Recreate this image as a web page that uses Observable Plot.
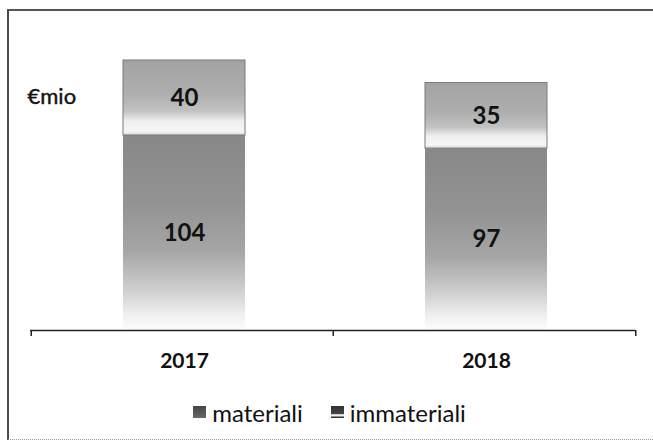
<!DOCTYPE html>
<html>
<head>
<meta charset="utf-8">
<script src="https://cdn.jsdelivr.net/npm/d3@7"></script>
<script src="https://cdn.jsdelivr.net/npm/@observablehq/plot@0.6"></script>
<style>
  html, body { margin: 0; padding: 0; background: #fff; }
  #wrap { position: relative; width: 653px; height: 441px; overflow: hidden; font-family: Lato, "DejaVu Sans", sans-serif; }
  #frame { position: absolute; left: 7px; top: 9px; width: 700px; height: 428px;
           border-left: 2px solid #4a4a4a; border-top: 2px solid #555; border-bottom: 1px dotted #999; pointer-events: none; }
  #legend { position: relative; height: 44px; display: flex; justify-content: center; align-items: center;
            font-size: 24px; color: #111; padding-left: 6px; }
  .item { display: flex; align-items: center; }
  .sw { width: 13px; height: 12px; margin-right: 6px; }
  .gap { width: 28px; }
</style>
</head>
<body>
<div id="wrap">
  <div id="chart"></div>
  <div id="legend"></div>
  <div id="frame"></div>
</div>
<script>
const years = ["2017", "2018"];
const materiali = [104, 97];
const immateriali = [40, 35];
const seriesNames = ["materiali", "immateriali"];
const yLabel = "€mio";

const fills = {materiali: "url(#gMat)", immateriali: "url(#gImm)"};
const rows = [];
years.forEach((yr, i) => {
  rows.push({year: yr, type: seriesNames[0], value: materiali[i]});
  rows.push({year: yr, type: seriesNames[1], value: immateriali[i]});
});

const W = 653, H = 390, mL = 30, mR = 18, mT = 30, mB = 60;
const bw = (W - mL - mR) / years.length;

const chart = Plot.plot({
  width: W, height: H,
  marginTop: mT, marginBottom: mB, marginLeft: mL, marginRight: mR,
  x: {type: "band", domain: years, padding: 0, axis: null},
  y: {domain: [0, 160], axis: null},
  color: {type: "identity"},
  style: {fontFamily: "Lato, 'DejaVu Sans', sans-serif", background: "transparent"},
  marks: [
    Plot.barY(rows, {
      x: "year", y: "value",
      fill: d => fills[d.type],
      stroke: d => d.type === "immateriali" ? "#7a7a7a" : "none",
      strokeWidth: 1,
      insetLeft: 90, insetRight: 90, dx: 2
    }),
    Plot.text(rows, Plot.stackY({
      x: "year", y: "value", text: d => String(d.value),
      fontSize: 24, fontWeight: "bold", fill: "#111", dx: 2
    })),
    Plot.ruleY([0], {stroke: "#222", strokeWidth: 1.5}),
    Plot.ruleX(years, {x: d => d, y1: 0, y2: -3.2, dx: -bw / 2, stroke: "#222", strokeWidth: 1.5}),
    Plot.ruleX(years.slice(-1), {x: d => d, y1: 0, y2: -3.2, dx: bw / 2, stroke: "#222", strokeWidth: 1.5}),
    Plot.text(years, {x: d => d, y: 0, dy: 31, text: d => d, fontSize: 21, fontWeight: "bold", fill: "#111", dx: 2}),
    Plot.text([yLabel], {frameAnchor: "top-left", text: d => d, textAnchor: "start", dx: -3, dy: 58, fontSize: 22, fill: "#111", stroke: "#111", strokeWidth: 0.4})
  ]
});

const defs = d3.select(chart).insert("defs", ":first-child");
function grad(id, stops) {
  const g = defs.append("linearGradient").attr("id", id)
    .attr("x1", 0).attr("y1", 0).attr("x2", 0).attr("y2", 1);
  stops.forEach(([o, c]) => g.append("stop").attr("offset", o).attr("stop-color", c));
}
grad("gMat", [[0, "#888888"], [0.35, "#939393"], [0.6, "#a6a6a6"], [0.8, "#d0d0d0"], [0.92, "#efefef"], [1, "#fdfdfd"]]);
grad("gImm", [[0, "#a3a3a3"], [0.45, "#aeaeae"], [0.68, "#c2c2c2"], [0.82, "#f0f0f0"], [0.95, "#f6f6f6"], [1, "#d8d8d8"]]);

document.getElementById("chart").appendChild(chart);

const legend = document.getElementById("legend");
const swatchBg = {
  materiali: "linear-gradient(#444, #6a6a6a)",
  immateriali: "linear-gradient(#333 0%, #444 65%, #eee 72%, #eee 85%, #333 90%)"
};
seriesNames.forEach((name, i) => {
  if (i > 0) { const g = document.createElement("div"); g.className = "gap"; legend.appendChild(g); }
  const it = document.createElement("div"); it.className = "item";
  const sw = document.createElement("div"); sw.className = "sw"; sw.style.background = swatchBg[name];
  const tx = document.createElement("span"); tx.textContent = name;
  it.appendChild(sw); it.appendChild(tx); legend.appendChild(it);
});
</script>
</body>
</html>
